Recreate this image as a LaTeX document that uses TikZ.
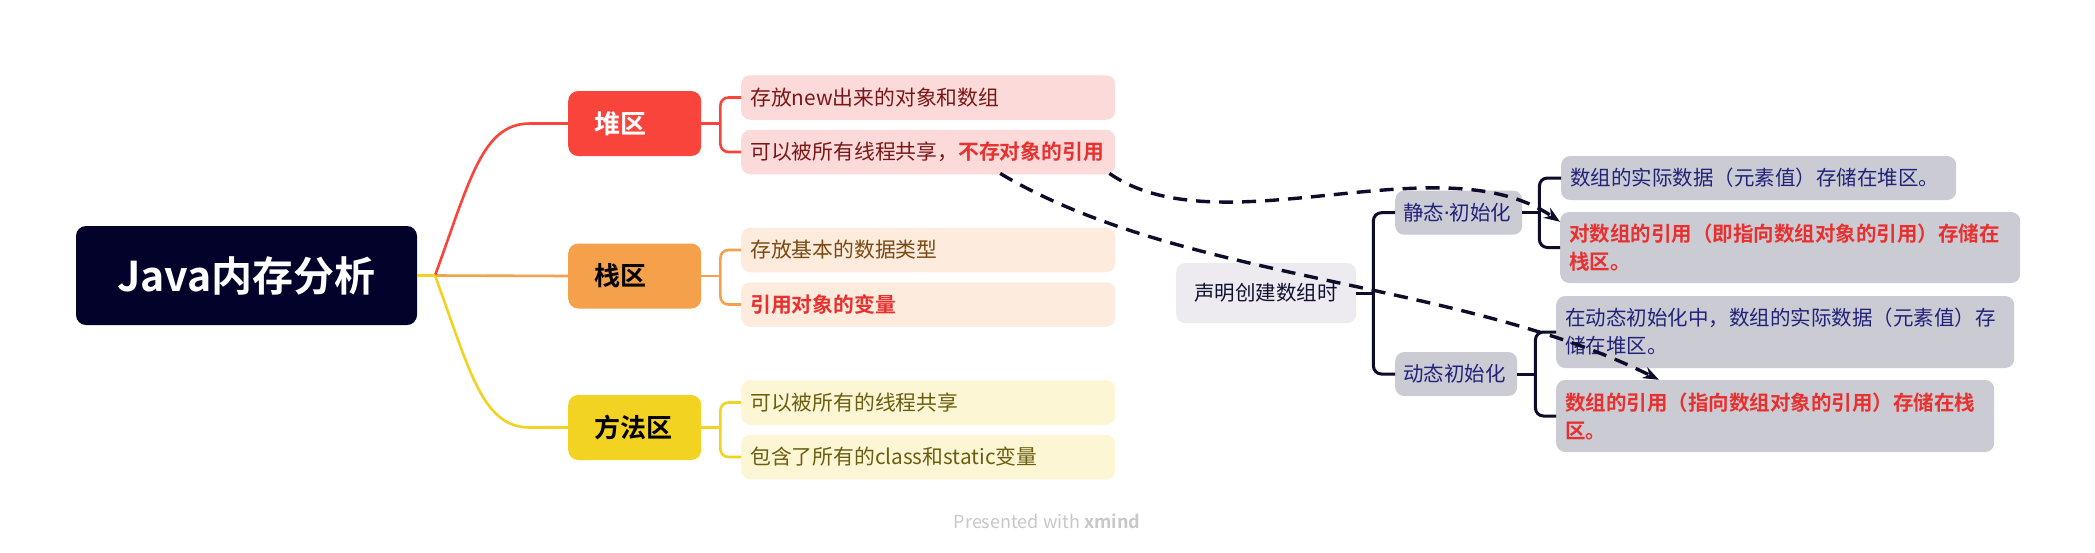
\documentclass[tikz,border=0pt]{standalone}
\usepackage{fontspec}
\setmainfont{Noto Sans CJK SC}[BoldFont={Noto Sans CJK SC Bold}]
\newfontfamily\latinsans{Noto Sans}
\usetikzlibrary{arrows.meta,calc}
\definecolor{rootc}{HTML}{02022A}
\definecolor{heapc}{HTML}{F9443C}
\definecolor{stackc}{HTML}{F5A04B}
\definecolor{methc}{HTML}{F2D322}
\definecolor{heapleaf}{HTML}{FDDADA}
\definecolor{stackleaf}{HTML}{FDEBDD}
\definecolor{methleaf}{HTML}{FCF6D5}
\definecolor{heaptext}{HTML}{7A1616}
\definecolor{stacktext}{HTML}{7A4A12}
\definecolor{methtext}{HTML}{6B5E10}
\definecolor{redtext}{HTML}{E8302F}
\definecolor{graybox}{HTML}{CBCBD4}
\definecolor{declbox}{HTML}{EDEBF0}
\definecolor{navytext}{HTML}{22227A}
\definecolor{decltext}{HTML}{101030}
\definecolor{navyline}{HTML}{0D0D2B}
\definecolor{footgray}{HTML}{C8C8C8}
\tikzset{
  rootbox/.style={fill=rootc, text=white, rounded corners=10pt, minimum width=341pt, minimum height=99pt, inner sep=0pt, font=\fontsize{41}{48}\selectfont\bfseries},
  branchbox/.style={rounded corners=10pt, minimum height=65pt, text width=81pt, inner xsep=26pt, inner ysep=0pt, align=left, anchor=west, font=\fontsize{26}{30}\selectfont\bfseries},
  leafbox/.style={rounded corners=9pt, minimum height=44.5pt, text width=356pt, inner xsep=9pt, inner ysep=0pt, align=left, anchor=west, font=\fontsize{20.8}{28}\selectfont},
  rbox/.style={fill=graybox, text=navytext, rounded corners=9pt, inner xsep=9pt, inner ysep=0pt, align=left, anchor=west, font=\fontsize{20.5}{28}\selectfont},
  cline/.style={line width=2.6pt},
  nline/.style={line width=3pt, draw=navyline},
  dasharrow/.style={line width=3.4pt, draw=navyline, dash pattern=on 14pt off 9pt, -{Stealth[length=16pt,width=12pt,fill=navyline]}},
}
\begin{document}
\begin{tikzpicture}[x=1pt,y=-1pt]
\useasboundingbox[fill=white] (0,0) rectangle (2095,552);

% root and branches
\node[rootbox] (root) at (246.5,275.5) {Java内存分析};
\node[branchbox, fill=heapc, text=white] (heap) at (568,123.5) {堆区};
\node[branchbox, fill=stackc, text=black] (stack) at (568,276) {栈区};
\node[branchbox, fill=methc, text=black] (meth) at (568,427.5) {方法区};

% left leaves
\node[leafbox, fill=heapleaf, text=heaptext] (h1) at (741,97.5) {存放new出来的对象和数组};
\node[leafbox, fill=heapleaf, text=heaptext] (h2) at (741,152) {可以被所有线程共享，{\bfseries\color{redtext}不存对象的引用}};
\node[leafbox, fill=stackleaf, text=stacktext] (s1) at (741,250) {存放基本的数据类型};
\node[leafbox, fill=stackleaf, text=redtext, font=\fontsize{20.8}{28}\selectfont\bfseries] (s2) at (741,304.5) {引用对象的变量};
\node[leafbox, fill=methleaf, text=methtext] (m1) at (741,402.5) {可以被所有的线程共享};
\node[leafbox, fill=methleaf, text=methtext] (m2) at (741,457) {包含了所有的class和static变量};

% right part
\node[rbox, fill=declbox, text=decltext, text width=144pt, inner xsep=18pt, minimum height=60pt] (decl) at (1176,293) {声明创建数组时};
\node[rbox, text width=111pt, inner xsep=8pt, minimum height=44pt] (stat) at (1395,212.7) {静态{\latinsans·}初始化};
\node[rbox, text width=106pt, inner xsep=8pt, minimum height=44pt] (dyn) at (1395,374) {动态初始化};
\node[rbox, text width=377pt, minimum height=44pt] (r1) at (1561,178) {数组的实际数据（元素值）存储在堆区。};
\node[rbox, text width=442pt, minimum height=71pt, text=redtext, font=\fontsize{20.5}{28}\selectfont\bfseries] (r2) at (1560,247.5) {对数组的引用（即指向数组对象的引用）存储在\\栈区。};
\node[rbox, text width=440pt, minimum height=72pt] (r3) at (1556,332) {在动态初始化中，数组的实际数据（元素值）存\\储在堆区。};
\node[rbox, text width=420pt, minimum height=72pt, text=redtext, font=\fontsize{20.5}{28}\selectfont\bfseries] (r4) at (1556,416) {数组的引用（指向数组对象的引用）存储在栈\\区。};

% root connectors
\coordinate (j) at (435,275.5);
\draw[cline, draw=stackc] (j) -- (stack.west);
\draw[cline, draw=heapc] (j) .. controls (470,180) and (482,123.5) .. (530,123.5) -- (heap.west);
\draw[cline, draw=methc] (j) .. controls (470,371) and (482,427.5) .. (530,427.5) -- (meth.west);
\draw[cline, draw=methc] (root.east) -- (j);

% left brackets
\draw[cline, draw=heapc] (heap.east) -- ($(heap.east)+(19,0)$);
\draw[cline, draw=heapc, rounded corners=8pt] (h1.west) -| ($(heap.east)+(19,0)$) |- (h2.west);
\draw[cline, draw=stackc] (stack.east) -- ($(stack.east)+(19,0)$);
\draw[cline, draw=stackc, rounded corners=8pt] (s1.west) -| ($(stack.east)+(19,0)$) |- (s2.west);
\draw[cline, draw=methc] (meth.east) -- ($(meth.east)+(19,0)$);
\draw[cline, draw=methc, rounded corners=8pt] (m1.west) -| ($(meth.east)+(19,0)$) |- (m2.west);

% right brackets
\draw[nline] (decl.east) -- ($(decl.east)+(17,0)$);
\draw[nline, rounded corners=8pt] (stat.west) -| ($(decl.east)+(17,0)$) |- (dyn.west);
\draw[nline] (stat.east) -- ($(stat.east)+(17,0)$);
\draw[nline, rounded corners=8pt] (r1.west) -| ($(stat.east)+(17,0)$) |- (r2.west);
\draw[nline] (dyn.east) -- ($(dyn.east)+(18,0)$);
\draw[nline, rounded corners=8pt] (r3.west) -| ($(dyn.east)+(18,0)$) |- (r4.west);

% dashed arrows
\draw[dasharrow] ($(h2.south east)+(-6,-1)$) .. controls (1220,250) and (1440,140) .. ($(r2.north west)+(0,10)$);
\draw[dasharrow] ($(h2.south)+(72,-1)$) .. controls (1180,281) and (1459,280) .. ($(r4.north west)+(103,0)$);

% footer
\node[text=footgray, font=\fontsize{18}{20}\selectfont] (foot) at (1047,521) {Presented with \textbf{xmind}};
\end{tikzpicture}
\end{document}
